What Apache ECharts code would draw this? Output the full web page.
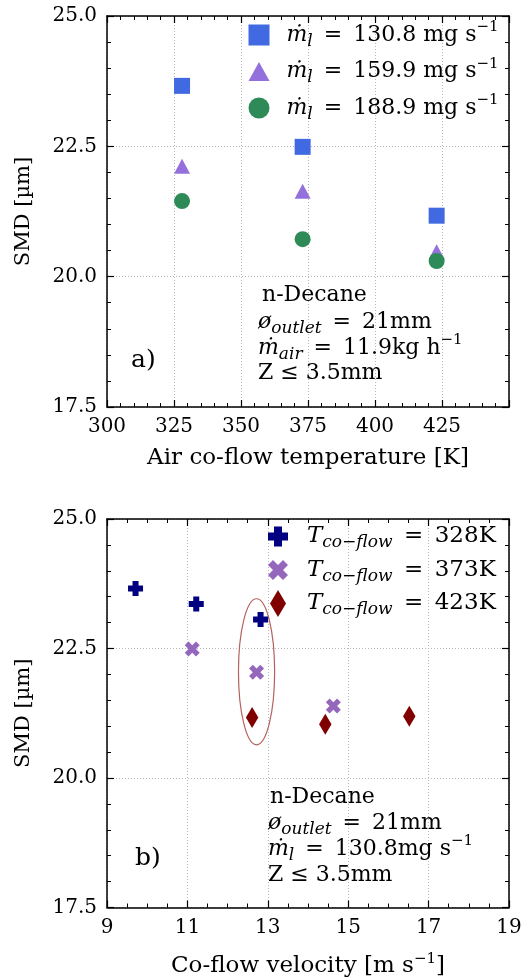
<!DOCTYPE html>
<html><head><meta charset="utf-8">
<script src="https://cdn.jsdelivr.net/npm/echarts@6/dist/echarts.min.js"></script>
<style>html,body{margin:0;padding:0;background:#fff}#c{width:526px;height:979px}</style>
</head><body><div id="c"></div>
<script>
// ---------------- data ----------------
const tempTicks = [300, 325, 350, 375, 400, 425, 450];
const velTicks = [9, 11, 13, 15, 17, 19];
const smdTicks = [17.5, 20.0, 22.5, 25.0];

const airTemp = [328, 373, 423];
const smdMl130 = [23.66, 22.49, 21.17];
const smdMl160 = [22.12, 21.64, 20.48];
const smdMl189 = [21.45, 20.72, 20.30];

const vel328 = [9.71, 11.22, 12.82];
const smd328 = [23.66, 23.36, 23.06];
const vel373 = [11.12, 12.72, 14.63];
const smd373 = [22.49, 22.04, 21.39];
const vel423 = [12.61, 14.43, 16.52];
const smd423 = [21.17, 21.04, 21.19];

const ellipseCenter = [12.72, 22.05];
const ellipseSize = [0.9, 2.82];

const namesTop = ['m130', 'm160', 'm189'];
const labelsTop = ['130.8', '159.9', '188.9'];
const namesBot = ['T328', 'T373', 'T423'];
const labelsBot = ['328K', '373K', '423K'];

// ---------------- style ----------------
const F = "'DejaVu Serif', serif";
const TFS = 20; // tick labels
function mkRich(fs, sfs, pfs, lh, padL, zr) {
  const c = zr ? 'fill' : 'color';
  const base = (size, extra) => Object.assign({fontFamily: F, fontSize: size, [c]: '#000', fontStyle: 'normal'}, extra);
  return {
    n: base(fs, {lineHeight: lh}),
    i: base(fs, {fontStyle: 'italic', lineHeight: lh}),
    ip: base(fs, {fontStyle: 'italic', lineHeight: lh, padding: [0, 0, 0, padL || 0]}),
    sub: base(sfs, {fontStyle: 'italic', lineHeight: sfs, verticalAlign: 'bottom'}),
    sup: base(pfs, {lineHeight: pfs - 3, verticalAlign: 'top'})
  };
}
const EQ = '\u2002=\u2002';
const richName = mkRich(23, 17, 15, 30, 0, false);
const richLegTop = mkRich(22, 17, 15, 30, 12, false);
const richLegBot = mkRich(23, 17, 15, 30, 14, false);
const richAnn = mkRich(22, 17, 15, 30, 0, true);

const P_SQ = 'path://M0 0H20V20H0Z';
const P_TRI = 'path://M10.5 -1M10.5 0L21 19L0 19ZM10.5 20';
const P_CIR = 'path://M10 0A10 10 0 1 1 10 20A10 10 0 1 1 10 0Z';
const PLUS = 'M6 0H14V6H20V14H14V20H6V14H0V6H6Z';
const XS = 'M15 0L20 5L15 10L20 15L15 20L10 15L5 20L0 15L5 10L0 5L5 0L10 5Z';
const DIA = 'M8 0L16 13.5L8 27L0 13.5Z';

const grids = [
  {left: 107, top: 16, width: 402, height: 391},
  {left: 107, top: 519, width: 402, height: 389}
];

function xAx(gi, ticks, split, pos, nameTxt, nameGap) {
  const main = pos === 'bottom';
  return {
    type: 'value', gridIndex: gi, position: pos,
    min: ticks[0], max: ticks[ticks.length - 1], interval: ticks[1] - ticks[0],
    name: main ? nameTxt : '', nameLocation: 'middle', nameGap: nameGap,
    nameTextStyle: {fontFamily: F, fontSize: 23, color: '#000', rich: richName},
    axisLine: {show: true, onZero: false, lineStyle: {color: '#000', width: 1.5}},
    axisTick: {show: true, inside: true, length: 7, lineStyle: {color: '#000', width: 1.2}},
    minorTick: {show: true, splitNumber: split, length: 4, lineStyle: {color: '#000', width: 1}},
    axisLabel: {show: main, margin: 10, fontFamily: F, fontSize: TFS, color: '#000',
      showMaxLabel: gi === 1, showMinLabel: true},
    splitLine: {show: main, lineStyle: {color: '#b8b8b8', type: [1, 2], width: 1}}
  };
}
function yAx(gi, pos) {
  const main = pos === 'left';
  return {
    type: 'value', gridIndex: gi, position: pos,
    min: smdTicks[0], max: smdTicks[smdTicks.length - 1], interval: smdTicks[1] - smdTicks[0],
    name: main ? 'SMD [µm]' : '', nameLocation: 'middle', nameGap: 73, nameRotate: 90,
    nameTextStyle: {fontFamily: F, fontSize: 21, color: '#000'},
    axisLine: {show: true, onZero: false, lineStyle: {color: '#000', width: 1.5}},
    axisTick: {show: true, inside: true, length: 7, lineStyle: {color: '#000', width: 1.2}},
    minorTick: {show: true, splitNumber: 5, length: 4, lineStyle: {color: '#000', width: 1}},
    axisLabel: {show: main, margin: 10, fontFamily: F, fontSize: TFS, color: '#000',
      formatter: v => v.toFixed(1)},
    splitLine: {show: main, lineStyle: {color: '#b8b8b8', type: [1, 2], width: 1}}
  };
}

const xAxes = [
  xAx(0, tempTicks, 5, 'bottom', '{n|Air co-flow temperature [K]}', 36),
  xAx(0, tempTicks, 5, 'top'),
  xAx(1, velTicks, 4, 'bottom', '{n|Co-flow velocity [m s}{sup|−1}{n|]}', 44),
  xAx(1, velTicks, 4, 'top')
];
const yAxes = [yAx(0, 'left'), yAx(0, 'right'), yAx(1, 'left'), yAx(1, 'right')];

function pairs(xs, ys) { return xs.map((x, i) => [x, ys[i]]); }

const series = [
  {name: namesTop[0], type: 'scatter', xAxisIndex: 0, yAxisIndex: 0, symbol: 'rect', symbolSize: 16,
    itemStyle: {color: '#4169E1', opacity: 1}, data: pairs(airTemp, smdMl130)},
  {name: namesTop[1], type: 'scatter', xAxisIndex: 0, yAxisIndex: 0, symbol: 'triangle', symbolSize: [16, 15],
    itemStyle: {color: '#9370DB', opacity: 1}, data: pairs(airTemp, smdMl160)},
  {name: namesTop[2], type: 'scatter', xAxisIndex: 0, yAxisIndex: 0, symbol: 'circle', symbolSize: 16,
    itemStyle: {color: '#2E8B57', opacity: 1}, data: pairs(airTemp, smdMl189)},
  {name: namesBot[0], type: 'scatter', xAxisIndex: 2, yAxisIndex: 2, symbol: 'path://' + PLUS, symbolSize: 15,
    itemStyle: {color: '#000080', opacity: 1}, data: pairs(vel328, smd328)},
  {name: namesBot[1], type: 'scatter', xAxisIndex: 2, yAxisIndex: 2, symbol: 'path://' + XS, symbolSize: 15,
    itemStyle: {color: '#9467BD', opacity: 1}, data: pairs(vel373, smd373)},
  {name: namesBot[2], type: 'scatter', xAxisIndex: 2, yAxisIndex: 2, symbol: 'path://' + DIA, symbolSize: 21,
    symbolKeepAspect: true, itemStyle: {color: '#800000', opacity: 1}, data: pairs(vel423, smd423)},
  {type: 'custom', xAxisIndex: 2, yAxisIndex: 2, silent: true, z: 1,
    data: [[ellipseCenter[0], ellipseCenter[1], ellipseSize[0], ellipseSize[1]]],
    renderItem: function (params, api) {
      const c = api.coord([api.value(0), api.value(1)]);
      const s = api.size([api.value(2), api.value(3)]);
      return {type: 'ellipse', shape: {cx: c[0], cy: c[1], rx: s[0] / 2, ry: s[1] / 2},
        style: {fill: 'none', stroke: '#b5615f', lineWidth: 1.2}};
    }}
];

const legends = [
  {orient: 'vertical', left: 243.5, top: 15, itemWidth: 21, itemHeight: 21, itemGap: 6.5,
    selectedMode: false, textStyle: {rich: richLegTop, fontFamily: F, fontSize: 22, color: '#000'},
    data: [
      {name: namesTop[0], icon: P_SQ}, {name: namesTop[1], icon: P_TRI}, {name: namesTop[2], icon: P_CIR}
    ],
    formatter: n => '{ip|ṁ}{sub|l}{n|' + EQ + labelsTop[namesTop.indexOf(n)] + ' mg s}{sup|−1}'},
  {orient: 'vertical', left: 263, top: 518, itemWidth: 20, itemHeight: 27, itemGap: 5,
    selectedMode: false, textStyle: {rich: richLegBot, fontFamily: F, fontSize: 23, color: '#000'},
    data: [
      {name: namesBot[0], icon: 'path://M10 -3.5' + PLUS + 'M10 23.5'},
      {name: namesBot[1], icon: 'path://M10 -3.5' + XS + 'M10 23.5'},
      {name: namesBot[2], icon: 'path://' + DIA}
    ],
    formatter: n => '{ip|T}{sub|co−flow}{n|' + EQ + labelsBot[namesBot.indexOf(n)] + '}'}
];

function txt(x, y, t, fs) {
  return {type: 'text', x: x, y: y, z: 50,
    style: {text: t, rich: richAnn, fill: '#000', font: (fs || 22) + 'px ' + F, align: 'left', verticalAlign: 'middle'}};
}
const graphics = [
  txt(262, 295, '{n|n-Decane}'),
  txt(258, 322, '{i|ø}{sub|outlet}{n|' + EQ + '21mm}'),
  txt(258, 348, '{i|ṁ}{sub|air}{n|' + EQ + '11.9kg h}{sup|−1}'),
  txt(258, 373, '{n|Z ≤ 3.5mm}'),
  {type: 'text', x: 131, y: 360, z: 50, style: {text: 'a)', fill: '#000', font: '25px ' + F, align: 'left', verticalAlign: 'middle'}},
  txt(270, 797, '{n|n-Decane}'),
  txt(268, 823, '{i|ø}{sub|outlet}{n|' + EQ + '21mm}'),
  txt(268, 849, '{i|ṁ}{sub|l}{n|' + EQ + '130.8mg s}{sup|−1}'),
  txt(268, 875, '{n|Z ≤ 3.5mm}'),
  {type: 'text', x: 135, y: 858, z: 50, style: {text: 'b)', fill: '#000', font: '25px ' + F, align: 'left', verticalAlign: 'middle'}}
];

const chart = echarts.init(document.getElementById('c'), null, {renderer: 'canvas'});
chart.setOption({
  backgroundColor: '#fff',
  animation: false,
  grid: grids,
  xAxis: xAxes,
  yAxis: yAxes,
  legend: legends,
  series: series,
  graphic: graphics
});
</script></body></html>
